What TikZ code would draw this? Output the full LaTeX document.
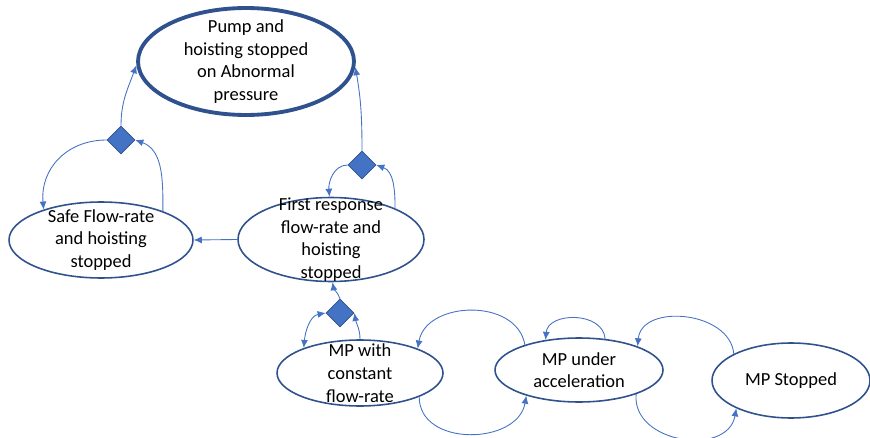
\documentclass[tikz,border=0pt]{standalone}
\usepackage{fontspec}
\setmainfont{Carlito}
\usetikzlibrary{shapes,arrows.meta,positioning}
\usepackage{xcolor}
\definecolor{rimblue}{HTML}{2F528F}
\definecolor{linkblue}{HTML}{4472C4}

\begin{document}
\begin{tikzpicture}[x=0.02cm, y=0.02cm]
      \tikzstyle{state} = [ellipse, draw=rimblue, line width=0.9pt, fill=white, inner sep=0pt]
      \tikzstyle{statetext} = [align=center, font=\fontsize{10.5}{12.9}\selectfont, inner sep=0pt]
      \tikzstyle{choice} = [diamond, draw=rimblue, fill=linkblue, line width=0.4pt, minimum size=0.56cm, inner sep=0pt]
      \tikzstyle{link} = [draw=linkblue, line width=0.5pt, ->, >={Latex[length=1.6mm,width=1.4mm]}]

      \useasboundingbox (0,0) rectangle (870,437);

      \node[state, line width=2.2pt, minimum width=4.32cm, minimum height=2.14cm] (pump) at (246,375.5) {};
      \node[statetext] (pumptxt) at (pump) {Pump and\\hoisting stopped\\on Abnormal\\pressure};

      \node[state, minimum width=3.68cm, minimum height=1.52cm] (safe) at (101,197) {};
      \node[statetext] (safetxt) at (safe) {Safe Flow-rate\\and hoisting\\stopped};

      \node[state, minimum width=3.72cm, minimum height=1.68cm] (first) at (331,197.5) {};
      \node[statetext] (firsttxt) at (first) {First response\\flow-rate and\\hoisting\\stopped};

      \node[state, minimum width=3.32cm, minimum height=1.32cm] (const) at (360,64) {};
      \node[statetext] (consttxt) at (const) {MP with\\constant\\flow-rate};

      \node[state, minimum width=3.36cm, minimum height=1.28cm] (accel) at (579,67) {};
      \node[statetext] (acceltxt) at (accel) {MP under\\acceleration};

      \node[state, minimum width=3.16cm, minimum height=1.5cm] (stopped) at (791,56.5) {};
      \node[statetext] (stoppedtxt) at (stopped) {MP Stopped};

      \node[choice] (d1) at (121,297) {};
      \node[choice] (d2) at (362,272) {};
      \node[choice] (d3) at (340,124) {};

      % shutdown branches
      \draw[link] (d1.north) to[out=90, in=250] (pump.182);
      \draw[link] (d1.west) to[out=180, in=95, looseness=1.1] (safe.152);
      \draw[link] (safe.25) to[out=90, in=-20] (d1.east);
      \draw[link] (d2.north) to[out=90, in=-80] (pump.357);
      \draw[link] (d2.west) to[out=180, in=95] (first.92);
      \draw[link] (first.26) to[out=90, in=-20] (d2.east);
      \draw[link] (first.west) -- (safe.east);
      \draw[link] (d3.north) to[out=110, in=-80] (first.272);
      \draw[link, <->] (d3.west) to[out=190, in=85] (const.156);
      \draw[link] (const.north) to[out=90, in=-80] (d3.east);

      % pump operating modes
      \draw[link] (accel.155) to[out=100, in=80, looseness=1.15] (const.23);
      \draw[link] (const.338) to[out=-90, in=-100, looseness=1.2] (accel.206);
      \draw[link] (accel.50) to[out=95, in=85, looseness=1.2] (accel.138);
      \draw[link] (stopped.155) to[out=95, in=85, looseness=1.15] (accel.22);
      \draw[link] (accel.337) to[out=-95, in=-100, looseness=1.25] (stopped.207);
    \end{tikzpicture}
\end{document}
